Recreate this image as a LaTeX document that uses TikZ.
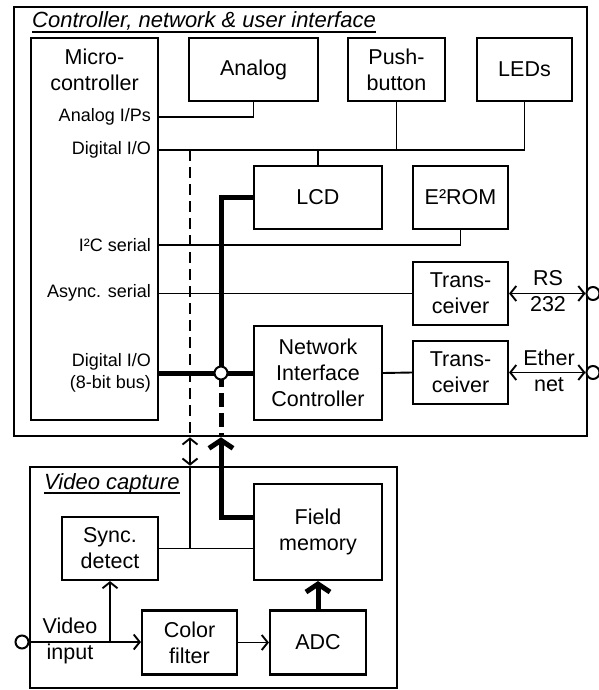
\documentclass[tikz,border=0pt]{standalone}
\usepackage{fontspec}
\setmainfont{Liberation Sans}
\usetikzlibrary{arrows.meta}

\tikzset{
  blk/.style={draw, line width=2.1pt, align=center, inner sep=0pt, font=\fontsize{21.5}{26}\selectfont},
  txt/.style={align=center, inner sep=0pt, font=\fontsize{21.5}{26}\selectfont},
  port/.style={anchor=east, align=right, inner sep=0pt, font=\fontsize{18}{22.5}\selectfont},
  ttl/.style={anchor=base west, inner sep=0pt, font=\fontsize{22}{26}\selectfont\itshape},
  frame/.style={draw, line width=2.6pt, inner sep=0pt},
  jack/.style={circle, draw, line width=2pt, fill=white, minimum size=13pt, inner sep=0pt},
  wire/.style={line width=1.9pt},
  bus/.style={line width=5pt},
  fatarrow/.style={bus, -{Straight Barb[length=8pt,width=24pt]}},
  >={Straight Barb[length=6pt,width=15pt]}
}

\begin{document}
\begin{tikzpicture}[x=1pt,y=-1pt]
  \useasboundingbox (0,0) rectangle (598,690);
  % frames
  \node[frame, minimum width=573, minimum height=429] (ctrl) at (300.5,221.5) {};
  \node[frame, minimum width=367, minimum height=221] (vid) at (213.5,577.5) {};
  \node[ttl] (ctrlttl) at (32,28) {Controller, network \& user interface};
  \draw[wire] ([yshift=-4pt]ctrlttl.base west) -- ([yshift=-4pt]ctrlttl.base east);
  \node[ttl] (vidttl) at (44,489) {Video capture};
  \draw[wire] ([yshift=-4pt]vidttl.base west) -- ([yshift=-4pt]vidttl.base east);

  % controller blocks
  \node[blk, minimum width=127, minimum height=382] (mcu) at (94.5,229) {};
  \node[txt] (mcuname) at (94.5,70) {Micro-\\controller};
  \node[blk, minimum width=129, minimum height=63] (analog) at (253.5,69.5) {Analog};
  \node[blk, minimum width=97, minimum height=63] (push) at (396.5,69.5) {Push-\\button};
  \node[blk, minimum width=95, minimum height=63] (leds) at (524.5,69.5) {LEDs};
  \node[blk, minimum width=128, minimum height=63] (lcd) at (318,197.5) {LCD};
  \node[blk, minimum width=95, minimum height=63] (eerom) at (460.5,197.5) {E²ROM};
  \node[blk, minimum width=95, minimum height=63] (trans1) at (460.5,293.5) {Trans-\\ceiver};
  \node[blk, minimum width=95, minimum height=63] (trans2) at (460.5,372.5) {Trans-\\ceiver};
  \node[blk, minimum width=128, minimum height=94] (nic) at (318,373) {Network\\Interface\\Controller};

  % ports
  \node[port] (pAna) at (151,117) {Analog I/Ps};
  \node[port] (pDig) at (151,150) {Digital I/O};
  \node[port] (pI2C) at (151,245) {I²C serial};
  \node[port] (pAsy) at (151,293) {Async. serial};
  \node[port] (pBus) at (151,373) {Digital I/O\\(8-bit bus)};

  % wires
  \draw[wire] (mcu.east |- pAna) -| (analog.south);
  \draw[wire] (mcu.east |- pDig) -| (leds.south);
  \draw[wire] (push.south) -- (push.south |- pDig);
  \draw[wire] (lcd.north) -- (lcd.north |- pDig);
  \draw[wire] (mcu.east |- pI2C) -| (eerom.south);
  \draw[wire] (mcu.east |- trans1.west) -- (trans1.west);
  \draw[wire] (nic.east) -- (trans2.west);

  % external links
  \node[jack] (rsjack) at (593,293.5) {};
  \node[jack] (ethjack) at (593,372.5) {};
  \draw[wire, <->] (trans1.east) -- (rsjack.west);
  \draw[wire, <->] (trans2.east) -- (ethjack.west);
  \node[txt] (rslbl) at (548,291) {RS\\232};
  \node[txt] (ethlbl) at (549,371) {Ether\\net};

  % sync tap
  \coordinate (tap) at (190,150);
  \draw[wire, dash pattern=on 11pt off 6pt] (tap) -- (tap |- ctrl.south);
  \draw[wire, <->] (tap |- ctrl.south) -- (tap |- vid.north);

  % video blocks
  \node[blk, minimum width=96, minimum height=63] (sync) at (110,548.5) {Sync.\\detect};
  \node[blk, minimum width=128, minimum height=96] (fmem) at (318,532) {Field\\memory};
  \node[blk, minimum width=95, minimum height=64] (color) at (189.5,642.5) {Color\\filter};
  \node[blk, minimum width=96, minimum height=64] (adc) at (318,642.5) {ADC};

  \draw[wire] (tap |- vid.north) -- (tap |- sync.east);
  \draw[wire] (sync.east) -- (fmem.west |- sync.east);

  % data bus
  \coordinate (jc) at (221,373);
  \draw[bus] (mcu.east |- jc) -- (nic.west |- jc);
  \draw[bus] (jc) |- (lcd.west);
  \draw[bus, dash pattern=on 14pt off 6pt] (jc) -- (jc |- ctrl.south);
  \draw[fatarrow] ([yshift=15pt]fmem.west) -| (jc |- ctrl.south);
  \node[jack] (junc) at (jc) {};
  \draw[fatarrow] (adc.north) -- (fmem.south);

  % video input
  \node[jack] (vjack) at (22,642) {};
  \draw[wire, ->] (vjack.east) -- (color.west |- vjack.east);
  \draw[wire, ->] (sync.south |- vjack.east) -- (sync.south);
  \draw[wire, ->] (color.east) -- (adc.west);
  \node[txt] (vinlbl) at (70,641) {Video\\input};
\end{tikzpicture}
\end{document}
